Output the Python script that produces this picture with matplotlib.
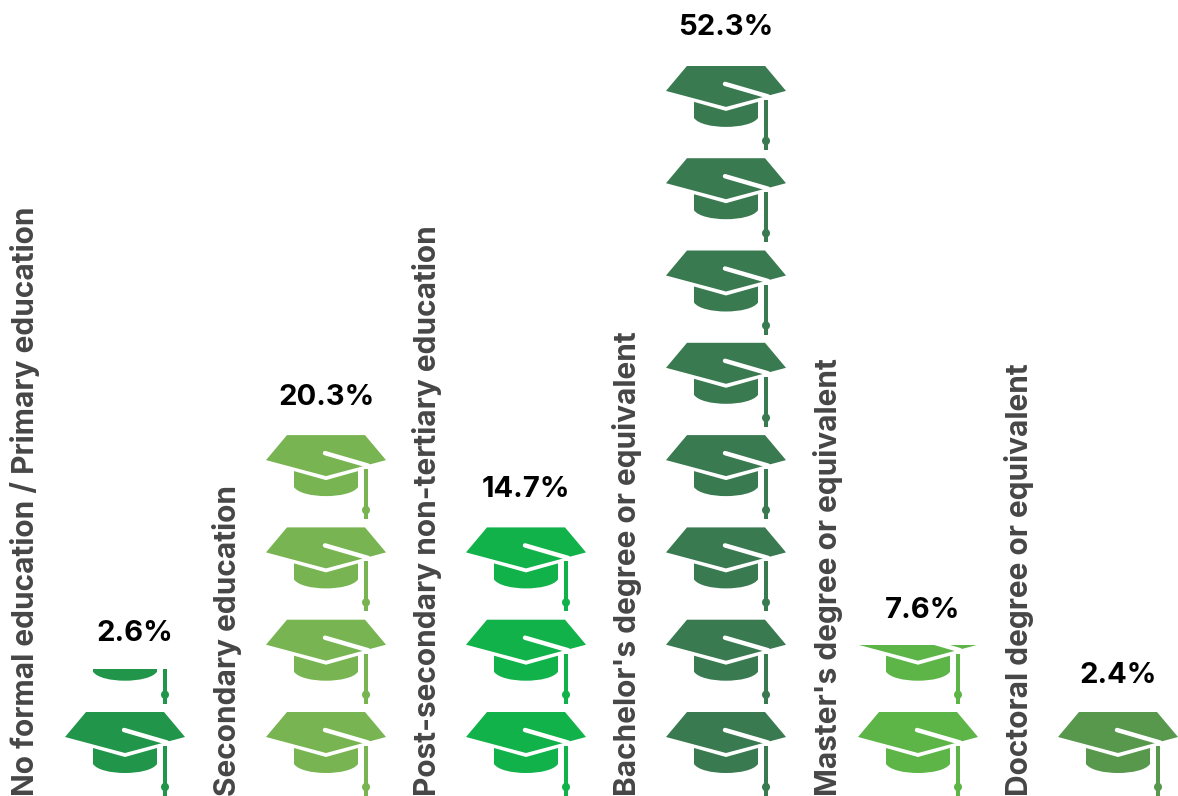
import matplotlib
matplotlib.use("Agg")
import matplotlib.pyplot as plt
from matplotlib.patches import PathPatch, Polygon, Rectangle, Ellipse
from matplotlib.path import Path

plt.rcParams['font.family'] = ['Inter', 'Liberation Sans', 'DejaVu Sans']

categories = ["No formal education / Primary education", "Secondary education",
              "Post-secondary non-tertiary education", "Bachelor's degree or equivalent",
              "Master's degree or equivalent", "Doctoral degree or equivalent"]
values = [2.6, 20.3, 14.7, 52.3, 7.6, 2.4]
# height of each icon stack, counted in icon rows
stack_rows = [1.376, 3.91, 2.91, 7.91, 1.636, 0.91]
colors = ["#21964a", "#78b552", "#12b24b", "#3a7a50", "#5db548", "#57984d"]

icon_x = [125, 326, 526, 726, 918, 1118]
label_x = [25, 227, 427, 627, 828, 1019]
value_x = [135, 326, 526, 726, 923, 1118]
value_gap = [35, 38, 38, 38, 34, 37]  # px above the stack
pitch = 92.3  # px between icons
icon_h = 84   # px


def row_y(row, py):
    # py = px below the top of the icon
    return row + (icon_h - py) / pitch


def draw_icon(ax, cx, row, color, clip):
    y = lambda py: row_y(row, py)
    cap = [(-39, 0), (39, 0), (60, 25), (0, 41), (-60, 25)]
    parts = [Polygon([(cx + a, y(b)) for a, b in cap], closed=True, fc=color, ec="none")]
    verts = [(cx - 32, y(36)), (cx, y(45)), (cx + 32, y(36)), (cx + 32, y(52)),
             (cx + 28, y(58)), (cx + 14, y(61)), (cx, y(61)),
             (cx - 14, y(61)), (cx - 28, y(58)), (cx - 32, y(52)), (cx - 32, y(36))]
    codes = [Path.MOVETO, Path.LINETO, Path.LINETO, Path.LINETO,
             Path.CURVE4, Path.CURVE4, Path.CURVE4,
             Path.CURVE4, Path.CURVE4, Path.CURVE4, Path.CLOSEPOLY]
    parts.append(PathPatch(Path(verts, codes), fc=color, ec="none"))
    parts.append(Rectangle((cx + 37.7, y(84)), 4.6, (84 - 34) / pitch, fc=color, ec="none"))
    parts.append(Ellipse((cx + 40, y(75)), 8, 8.5 / pitch, fc=color, ec="none"))
    for p in parts:
        ax.add_patch(p)
        p.set_clip_path(clip)
    line, = ax.plot([cx - 1, cx + 42], [y(18), y(30.5)], color="white", lw=3.2,
                    solid_capstyle="round")
    line.set_clip_path(clip)


fig = plt.figure(figsize=(11.78, 7.96), dpi=100)
ax = fig.add_axes([0, 0, 1, 1])
ax.set_xlim(0, 1178)
ax.set_ylim(0, 796 / pitch)
ax.axis("off")

for i, cat in enumerate(categories):
    clip = Rectangle((icon_x[i] - 70, 0), 140, stack_rows[i], transform=ax.transData)
    row = 0
    while row < stack_rows[i]:
        draw_icon(ax, icon_x[i], row, colors[i], clip)
        row += 1
    ax.text(value_x[i], stack_rows[i] + value_gap[i] / pitch, f"{values[i]}%", ha="center", va="center",
            fontsize=21, fontweight="bold", color="#000000")
    ax.text(label_x[i], 0, cat, rotation=90, ha="center", va="bottom",
            fontsize=21.5, fontweight="bold", color="#464646")

fig.savefig("out.png", dpi=100)
